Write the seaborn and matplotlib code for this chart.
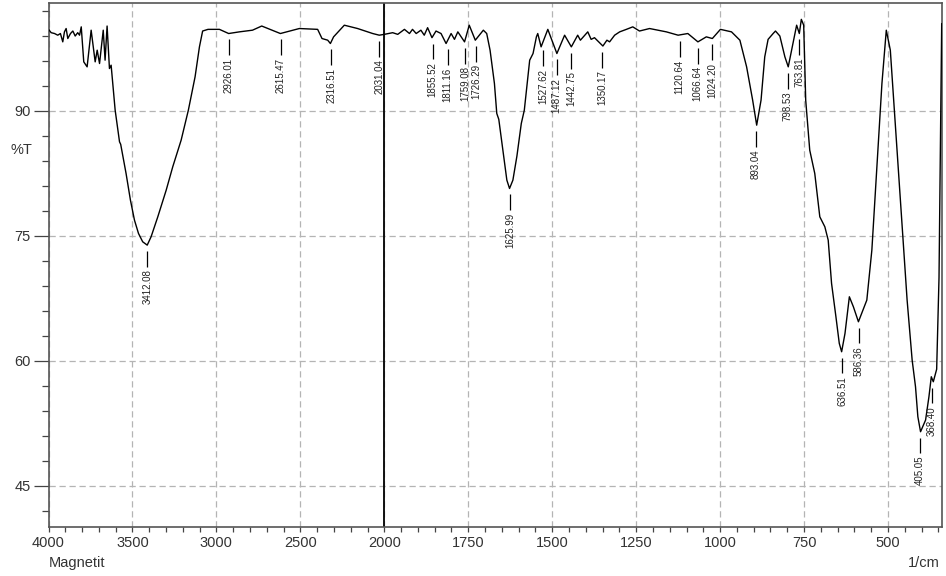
import numpy as np
import pandas as pd
import matplotlib
matplotlib.use("Agg")
import matplotlib.pyplot as plt
import seaborn as sns
from matplotlib.ticker import FixedLocator, FixedFormatter

# ---------------- data ----------------
wavenumber = [
    4000, 3984, 3964, 3945, 3929, 3915, 3905, 3895, 3885, 3869, 3855, 3841,
    3826, 3815, 3805, 3790, 3770, 3746, 3722, 3710, 3696, 3674, 3663, 3651,
    3637, 3627, 3603, 3577, 3570, 3538, 3512, 3488, 3464, 3439, 3412, 3389,
    3349, 3299, 3260, 3210, 3167, 3127, 3101, 3082, 3050, 2982, 2927, 2863,
    2785, 2730, 2619, 2506, 2397, 2371, 2337, 2321, 2302, 2238, 2159, 2069,
    2030,
    2000, 1975, 1960, 1940, 1925, 1916, 1905, 1891, 1881, 1871, 1858, 1846,
    1831, 1816, 1801, 1791, 1781, 1761, 1747, 1729, 1705, 1695, 1685, 1672,
    1665, 1659, 1647, 1635, 1627, 1617, 1605, 1592, 1583, 1567, 1557, 1547,
    1543, 1533, 1513, 1486, 1463, 1443, 1424, 1416, 1394, 1384, 1374, 1359,
    1349, 1337, 1329, 1314, 1299, 1279, 1260, 1240, 1210, 1160, 1125, 1096,
    1066, 1041, 1023,
    999, 966, 941, 921, 903, 891, 878, 867, 857, 842, 835, 822, 807, 797,
    787, 772, 764, 758, 751, 745, 733, 718, 703, 688, 678, 668, 655, 645,
    638, 628, 615, 603, 588, 563, 548, 533, 518, 505, 493, 483, 463, 443,
    428, 418, 411, 403, 388, 378, 371, 365, 355, 348, 340,
]
transmittance = [
    99.8, 99.4, 99.3, 99.1, 99.3, 98.3, 99.5, 99.9, 98.7, 99.3, 99.6, 99.0,
    99.4, 99.1, 100.1, 95.9, 95.3, 99.7, 95.9, 97.3, 95.7, 99.7, 96.1, 100.2,
    95.1, 95.5, 90.1, 86.3, 86.0, 82.5, 79.3, 76.9, 75.3, 74.3, 73.9, 74.9,
    77.3, 80.5, 83.3, 86.5, 90.1, 94.1, 97.7, 99.6, 99.8, 99.8, 99.3, 99.5,
    99.7, 100.2, 99.3, 99.9, 99.8, 98.7, 98.5, 98.1, 98.9, 100.3, 99.9, 99.3,
    99.1,
    99.2, 99.4, 99.2, 99.8, 99.3, 99.8, 99.3, 99.7, 99.1, 100.0, 98.8, 99.6,
    99.3, 98.1, 99.3, 98.6, 99.5, 98.3, 100.3, 98.5, 99.7, 99.3, 97.3, 93.3,
    89.7, 89.0, 85.3, 81.7, 80.7, 81.7, 84.6, 88.5, 90.1, 96.1, 96.9, 98.9,
    99.3, 97.7, 99.8, 96.9, 99.1, 97.7, 99.1, 98.5, 99.5, 98.6, 98.8, 98.2,
    97.8, 98.5, 98.3, 99.1, 99.5, 99.8, 100.1, 99.6, 99.9, 99.5, 99.1, 99.3,
    98.3, 98.9, 98.7,
    99.8, 99.5, 98.5, 95.3, 91.3, 88.3, 91.3, 96.5, 98.6, 99.3, 99.6, 99.0,
    96.5, 95.3, 97.3, 100.3, 99.3, 101.0, 100.3, 91.3, 85.3, 82.5, 77.3, 76.1,
    74.5, 69.3, 65.3, 62.1, 61.1, 63.3, 67.7, 66.5, 64.7, 67.3, 73.3, 83.3,
    93.3, 99.7, 97.3, 91.3, 79.3, 67.3, 60.1, 56.9, 53.3, 51.5, 52.9, 55.7,
    58.1, 57.5, 59.0, 70.0, 100.5,
]

peak_positions = [3412.08, 2926.01, 2615.47, 2316.51, 2031.04, 1855.52, 1811.16,
                  1759.08, 1726.29, 1625.99, 1527.62, 1487.12, 1442.75, 1350.17,
                  1120.64, 1066.64, 1024.20, 893.04, 798.53, 763.81, 636.51,
                  586.36, 405.05, 368.40]
peak_labels = ["3412.08", "2926.01", "2615.47", "2316.51", "2031.04", "1855.52",
               "1811.16", "1759.08", "1726.29", "1625.99", "1527.62", "1487.12",
               "1442.75", "1350.17", "1120.64", "1066.64", "1024.20", "893.04",
               "798.53", "763.81", "636.51", "586.36", "405.05", "368.40"]
peak_T = [73.9, 99.3, 99.3, 98.1, 99.1, 98.8, 98.1, 98.3, 98.5, 80.7, 98.0, 96.9,
          97.7, 97.8, 99.1, 98.3, 98.7, 88.3, 95.3, 99.3, 61.1, 64.7, 51.5, 57.5]

x_major = [4000, 3500, 3000, 2500, 2000, 1750, 1500, 1250, 1000, 750, 500]
x_major_labels = ["4000", "3500", "3000", "2500", "2000", "1750", "1500",
                  "1250", "1000", "750", "500"]
y_major = [45, 60, 75, 90]
y_major_labels = ["45", "60", "75", "90"]

# ---------------- styling ----------------
sns.set_theme(style="ticks")
plt.rcParams["font.family"] = ["Liberation Sans", "DejaVu Sans"]

W, H = 946, 576
fig = plt.figure(figsize=(W / 100, H / 100), dpi=100)
ax = fig.add_axes([48.5 / W, 49.3 / H, 893.2 / W, 524.0 / H])

df = pd.DataFrame({"wn": wavenumber, "T": transmittance})
sns.lineplot(data=df, x="wn", y="T", sort=False, estimator=None,
             color="black", linewidth=1.0, ax=ax, zorder=3)


def fwd(x):
    x = np.asarray(x, dtype=float)
    return np.where(x > 2000, 2000 + (x - 2000) / 2.0, x)


def inv(t):
    t = np.asarray(t, dtype=float)
    return np.where(t > 2000, 2000 + (t - 2000) * 2.0, t)


ax.set_xscale("function", functions=(fwd, inv))
ax.set_xlim(4000, 340)
ax.set_ylim(40.1, 103.0)

x_minor = [v for v in list(range(3900, 2000, -100)) + list(range(1950, 340, -50))
           if v not in x_major]
ax.xaxis.set_major_locator(FixedLocator(x_major))
ax.xaxis.set_major_formatter(FixedFormatter(x_major_labels))
ax.xaxis.set_minor_locator(FixedLocator(x_minor))
ax.yaxis.set_major_locator(FixedLocator(y_major))
ax.yaxis.set_major_formatter(FixedFormatter(y_major_labels))
ax.yaxis.set_minor_locator(FixedLocator([v for v in range(42, 103, 3) if v not in y_major]))

ax.grid(which="major", linestyle=(0, (5, 3)), color="#b4b4b4", linewidth=0.9)
ax.axvline(2000, color="black", linewidth=1.3, zorder=2)

ax.tick_params(axis="x", which="both", direction="out", length=3.6, width=0.9,
               color="#444444", labelsize=10.5, labelcolor="#333333", pad=3)
ax.tick_params(axis="y", which="major", direction="out", length=10.8, width=0.9,
               color="#444444", labelsize=10.5, labelcolor="#333333", pad=2)
ax.tick_params(axis="y", which="minor", direction="out", length=4.8, width=0.9,
               color="#444444")
for s in ax.spines.values():
    s.set_visible(True)
    s.set_color("#555555")
    s.set_linewidth(1.2)

ax.set_xlabel("")
ax.set_ylabel("%T", rotation=0, fontsize=10.5, color="#333333", ha="center", va="center")
ax.yaxis.set_label_coords(-0.030, 0.718)

# peak markers
for w, lab, t in zip(peak_positions, peak_labels, peak_T):
    ax.vlines(w, t - 2.6, t - 0.7, color="black", linewidth=0.9, zorder=4)
    ax.text(w, t - 2.9, lab, rotation=90, ha="center", va="top",
            fontsize=7, color="#222222", zorder=4)

fig.text(49 / W, 1 - 567 / H, "Magnetit", ha="left", va="baseline",
         fontsize=10.5, color="#333333")
fig.text(940 / W, 1 - 567 / H, "1/cm", ha="right", va="baseline",
         fontsize=10.5, color="#333333")

fig.savefig("out.png", dpi=100)
